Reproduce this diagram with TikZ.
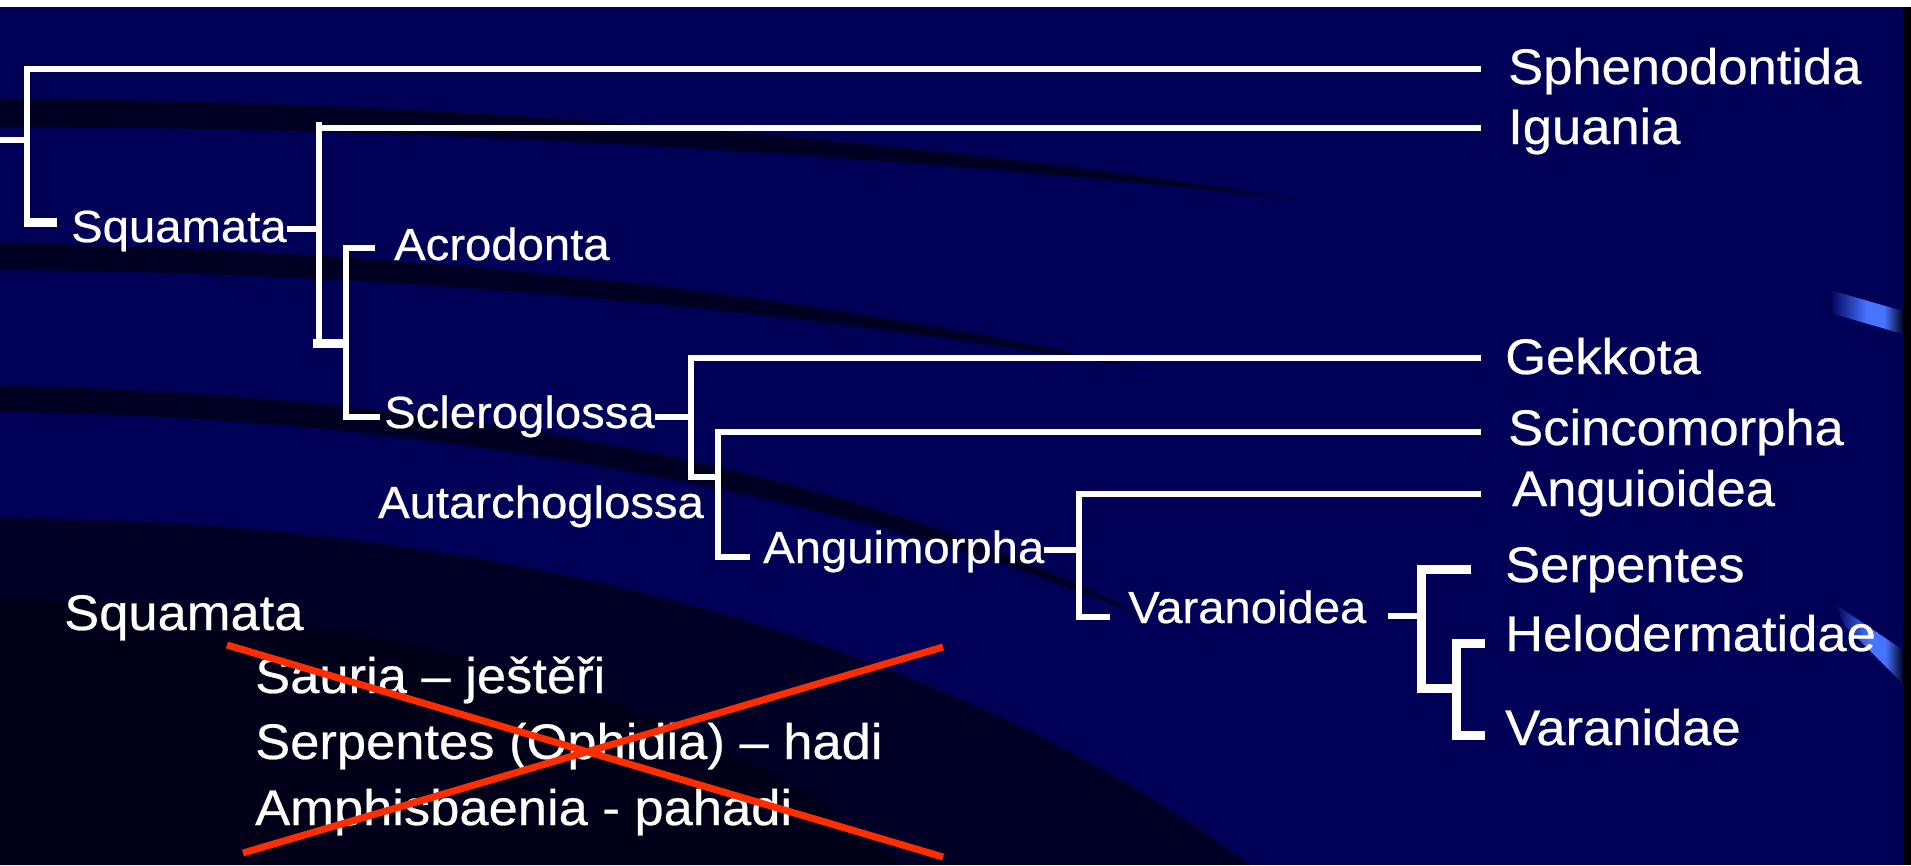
\documentclass[tikz,border=0pt]{standalone}
\usepackage{fontspec}
\setmainfont{Liberation Sans}[FakeStretch=1.05, FakeBold=0.5]
\definecolor{navy}{RGB}{0,0,86}
\definecolor{xred}{RGB}{255,45,0}
\definecolor{hiblue}{RGB}{70,115,255}
\pgfdeclarehorizontalshading{hilite}{100bp}{color(0bp)=(navy); color(25bp)=(navy); color(50bp)=(hiblue); color(62bp)=(hiblue); color(75bp)=(navy!40!black); color(100bp)=(navy!40!black)}
\begin{document}
\begin{tikzpicture}[x=1pt,y=-1pt,
  branch/.style={draw=white, line width=6pt, line join=miter},
  thickbranch/.style={draw=white, line width=9pt, line join=miter},
  big/.style={text=white, font=\fontsize{50}{58}\selectfont, anchor=base west, inner sep=0pt},
  small/.style={text=white, font=\fontsize{45}{52}\selectfont, anchor=base west, inner sep=0pt},
  cross/.style={draw=xred, line width=7pt},
  band/.style={fill=black, opacity=0.6}]
\useasboundingbox (0,0) rectangle (1911,865);
% background
\fill[navy] (0,0) rectangle (1911,865);
\fill[band] (0,99) .. controls (500,100) and (1000,150) .. (1300,200) .. controls (1000,165) and (500,127) .. (0,127) -- cycle;
\fill[band] (0,243) .. controls (400,250) and (800,290) .. (1150,370) .. controls (800,310) and (400,272) .. (0,270) -- cycle;
\fill[band] (0,386) .. controls (400,392) and (850,460) .. (1150,620) .. controls (850,490) and (400,415) .. (0,412) -- cycle;
\fill[black, opacity=0.55] (0,518) .. controls (500,520) and (950,640) .. (1250,865) -- (0,865) -- cycle;
\fill[black, opacity=0.35] (0,600) .. controls (300,600) and (700,680) .. (900,865) -- (0,865) -- cycle;
\shade[shading=hilite] (1830,290) -- (1903,311) -- (1903,334) -- (1830,313) -- cycle;
\shade[shading=hilite] (1835,604) -- (1903,650) -- (1903,684) -- (1845,626) -- cycle;
\fill[white] (0,0) rectangle (1911,7);
\fill[black] (1903,7) rectangle (1911,865);

% labels
\node[big] (sph) at (1508,84) {Sphenodontida};
\node[big] (igu) at (1508,144) {Iguania};
\node[big] (gek) at (1505,374) {Gekkota};
\node[big] (sci) at (1508,445) {Scincomorpha};
\node[big] (agd) at (1512,506) {Anguioidea};
\node[big] (ser) at (1505,582) {Serpentes};
\node[big] (hel) at (1505,651) {Helodermatidae};
\node[big] (vrn) at (1505,745) {Varanidae};

\node[small] (squ) at (71,242) {Squamata};
\node[small] (acr) at (394,260) {Acrodonta};
\node[small] (scl) at (384,428) {Scleroglossa};
\node[small] (aut) at (378,518) {Autarchoglossa};
\node[small] (ang) at (763,563) {Anguimorpha};
\node[small] (vrd) at (1128,623) {Varanoidea};

\node[big] (sq2) at (64,630) {Squamata};
\node[big] (l1) at (255,693) {Sauria – ještěři};
\node[big] (l2) at (255,759) {Serpentes (Ophidia) – hadi};
\node[big] (l3) at (255,825) {Amphisbaenia - pahadi};

% tree coordinates
\coordinate (r0) at (0,140);
\coordinate (r1) at (27,140);
\coordinate (rt) at (27,69);
\coordinate (rb) at (27,222);
\coordinate (rbE) at (57,222);
\coordinate (sphE) at (1481,69);
\coordinate (sqJ) at (319,229);
\coordinate (sqT) at (319,122);
\coordinate (sqB) at (319,343);
\coordinate (sqBE) at (346,343);
\coordinate (igE) at (1481,128);
\coordinate (acT) at (346,248);
\coordinate (acTE) at (375,248);
\coordinate (acB) at (346,417);
\coordinate (acBE) at (380,417);
\coordinate (gkJ) at (691,417);
\coordinate (gkT) at (691,358);
\coordinate (gkB) at (691,477);
\coordinate (gkE) at (1481,358);
\coordinate (scT) at (718,432);
\coordinate (scB) at (718,557);
\coordinate (scBE) at (750,557);
\coordinate (scE) at (1481,432);
\coordinate (anJ) at (1079,550);
\coordinate (anT) at (1079,494);
\coordinate (anB) at (1079,617);
\coordinate (anBE) at (1110,617);
\coordinate (aoE) at (1481,494);
\coordinate (vaS) at (1388,616);
\coordinate (vaJ) at (1421,616);
\coordinate (vaT) at (1421,569);
\coordinate (vaB) at (1421,688);
\coordinate (spE) at (1471,569);
\coordinate (heT) at (1456,643);
\coordinate (heB) at (1456,735);
\coordinate (heE) at (1485,643);
\coordinate (vdE) at (1485,735);

% tree
\draw[branch] (r0) -- (r1);
\draw[branch] (sphE) -- (rt) -- (rb);
\draw[thickbranch] ([xshift=-3pt]rb) -- (rbE);
\draw[branch] (squ.east |- sqJ) -- (sqJ);
\draw[branch] (sqT) -- (sqB);
\draw[branch] (igE) -- (igE -| sqT);
\draw[thickbranch] ([xshift=-6pt]sqB) -- (sqBE);
\draw[branch] (acTE) -- (acT) -- (acB) -- (acBE);
\draw[branch] (scl.east |- gkJ) -- (gkJ);
\draw[branch] (gkE) -- (gkT) -- (gkB) -- (gkB -| scT);
\draw[branch] (scE) -- (scT) -- (scB) -- (scBE);
\draw[branch] (ang.east |- anJ) -- (anJ);
\draw[branch] (aoE) -- (anT) -- (anB) -- (anBE);
\draw[branch] (vaS) -- (vaJ);
\draw[thickbranch] (spE) -- (vaT) -- (vaB) -- (vaB -| heT);
\draw[thickbranch] (heE) -- (heT) -- (heB) -- (vdE);

% red cross
\coordinate (xa) at (227,645);
\coordinate (xb) at (943,857);
\coordinate (xc) at (943,647);
\coordinate (xd) at (243,853);
\draw[cross] (xa) -- (xb);
\draw[cross] (xc) -- (xd);
\end{tikzpicture}
\end{document}
